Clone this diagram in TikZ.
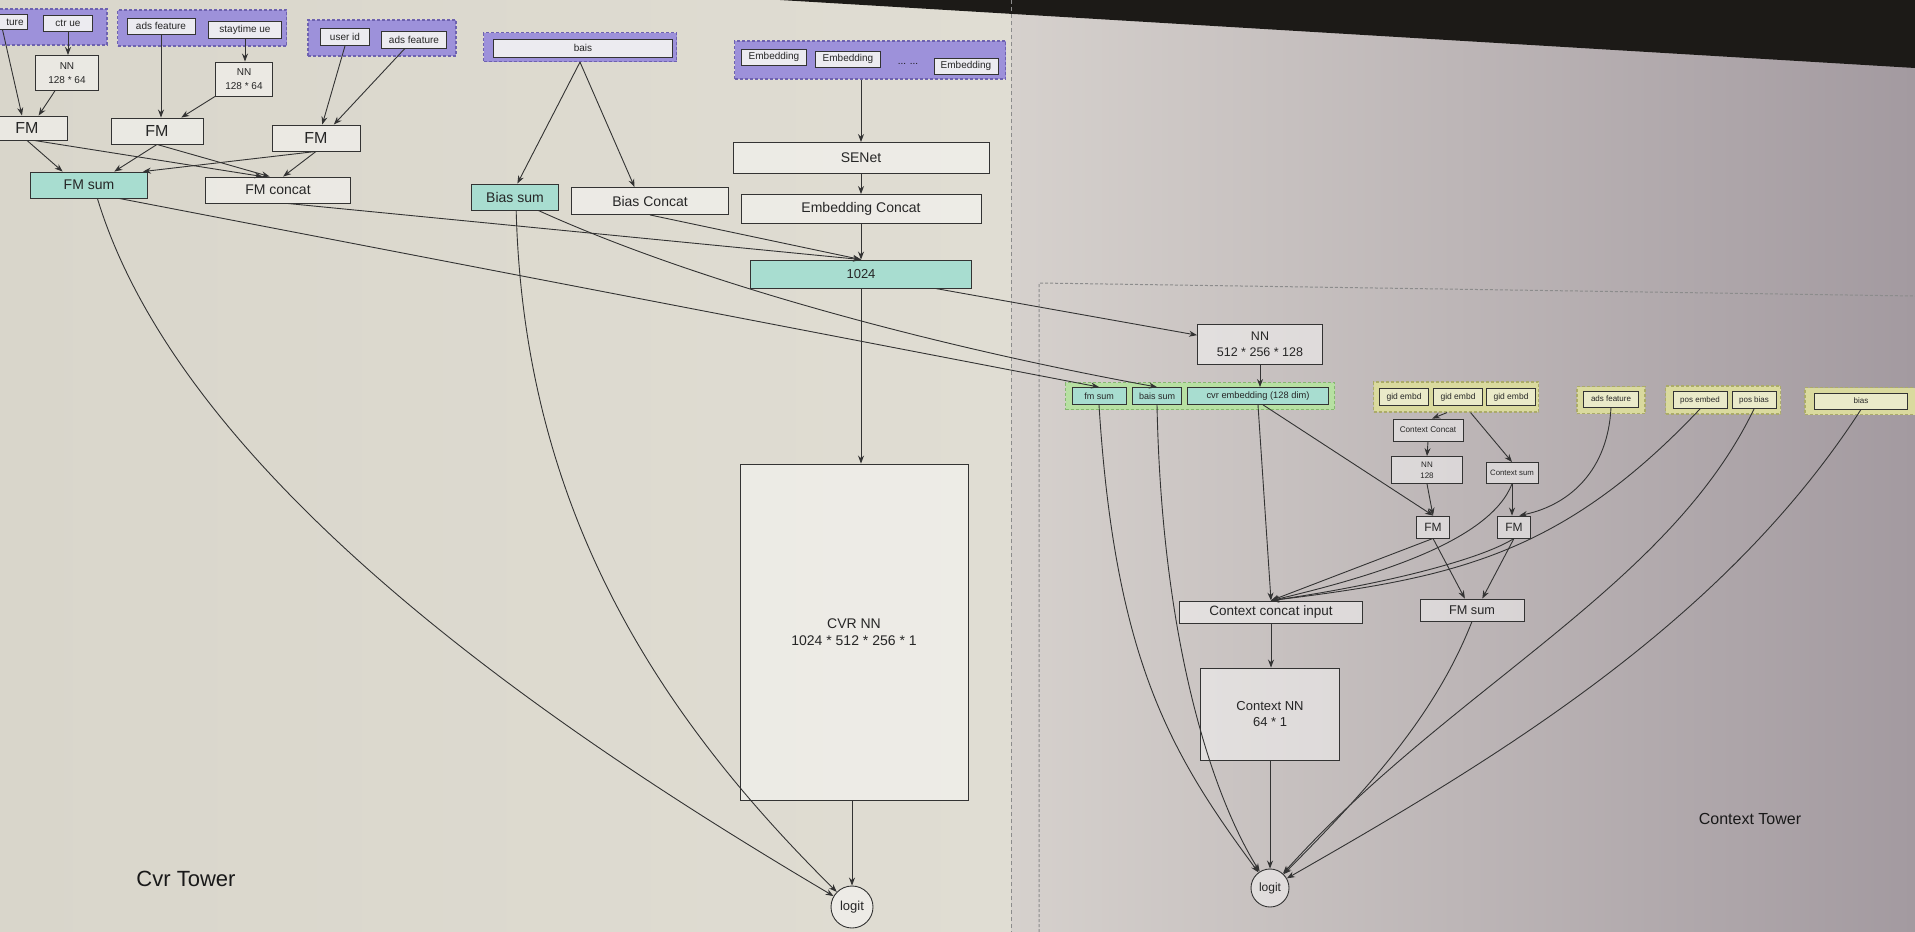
\documentclass[tikz,border=0pt]{standalone}
\usepackage{fontspec}
\setmainfont{Liberation Sans}
\usetikzlibrary{arrows.meta,calc}
\definecolor{bgA}{HTML}{D9D6CB}
\definecolor{bgB}{HTML}{E0DDD3}
\definecolor{bgD}{HTML}{D6D1CD}
\definecolor{bgC}{HTML}{A39AA0}
\definecolor{bezel}{HTML}{1C1A17}
\definecolor{ink}{HTML}{333333}
\definecolor{purp}{HTML}{9D91DA}
\definecolor{purpD}{HTML}{6E62B0}
\definecolor{tealc}{HTML}{A8DDD0}
\definecolor{greenc}{HTML}{B7E0A2}
\definecolor{greenD}{HTML}{86B870}
\definecolor{yelc}{HTML}{DADA9E}
\definecolor{yelD}{HTML}{ABAB6A}
\definecolor{inbox}{HTML}{ECEBF0}
\definecolor{divc}{HTML}{8C8C8C}
\newcommand{\myfs}[2]{\fontsize{#1}{#2}\selectfont}
\begin{document}
\begin{tikzpicture}[x=1pt,y=-1pt,
 box/.style={draw=ink, line width=0.9pt, fill=white, fill opacity=0.45, text opacity=1, inner sep=0pt, align=center, text=black!85},
 tbox/.style={box, fill=tealc, fill opacity=1},
 ibox/.style={box, fill=inbox, fill opacity=1, line width=0.8pt},
 grp/.style={dash pattern=on 3pt off 2pt, line width=1.2pt, inner sep=0pt},
 pgrp/.style={grp, draw=purpD, fill=purp},
 ggrp/.style={grp, draw=greenD, fill=greenc},
 ygrp/.style={grp, draw=yelD, fill=yelc},
 wh/.style 2 args={minimum width=#1pt, minimum height=#2pt},
 conn/.style={draw=ink, line width=0.9pt, -{Stealth[length=8pt,width=6pt]}},
 lbl/.style={inner sep=0pt, text=black!90}]
\useasboundingbox (0,0) rectangle (1915,932);
\shade[left color=bgA, right color=bgB] (0,0) rectangle (1012,932);
\shade[left color=bgD, right color=bgC] (1011,0) rectangle (1915,932);
\fill[bezel] (780,0) -- (1915,0) -- (1915,68) -- cycle;
\draw[divc, line width=1pt, dash pattern=on 4pt off 3pt] (1011,0) -- (1011,932);
\draw[divc, line width=1pt, dash pattern=on 3pt off 2pt] (1039,932) -- (1039,283) -- (1915,296);

% ---------------- Cvr tower ----------------
\node[pgrp, wh={130}{36}] (g1) at (42,27) {};
\node[ibox, wh={58}{15}] (af1) at (-2,22) {};
\node[lbl, font=\myfs{10}{12}, text=black!85] (af1t) at (15,22) {ture};
\node[ibox, wh={49}{16}, font=\myfs{10}{12}] (ctr) at (68,23) {ctr ue};
\node[box, wh={63}{35}, font=\myfs{10}{14}] (nn1) at (67,73) {NN\\128 * 64};
\node[box, wh={80}{24}, font=\myfs{16}{18}] (fm1) at (27,128) {FM};
\node[pgrp, wh={169}{36}] (g2) at (202,28) {};
\node[ibox, wh={68}{16}, font=\myfs{10}{12}] (af2) at (161,26) {ads feature};
\node[ibox, wh={73}{17}, font=\myfs{10}{12}] (st) at (245,30) {staytime ue};
\node[box, wh={57}{34}, font=\myfs{10}{14}] (nn2) at (244,79) {NN\\128 * 64};
\node[box, wh={92}{26}, font=\myfs{16}{18}] (fm2) at (157,131) {FM};
\node[pgrp, wh={148}{36}] (g3) at (382,38) {};
\node[ibox, wh={49}{17}, font=\myfs{10}{12}] (uid) at (345,37) {user id};
\node[ibox, wh={65}{17}, font=\myfs{10}{12}] (af3) at (414,40) {ads feature};
\node[box, wh={88}{26}, font=\myfs{16}{18}] (fm3) at (316,138) {FM};
\node[tbox, wh={117}{26}, font=\myfs{14}{16}] (fms) at (89,185) {FM sum};
\node[box, wh={145}{26}, font=\myfs{14}{16}] (fmc) at (278,190) {FM concat};
\node[pgrp, wh={193}{29}] (gb) at (580,47) {};
\node[ibox, wh={179}{18}, font=\myfs{10}{12}] (bais) at (583,48) {bais};
\node[tbox, wh={87}{26}, font=\myfs{14}{16}] (bs) at (515,197) {Bias sum};
\node[box, wh={157}{27}, font=\myfs{14}{16}] (bc) at (650,201) {Bias Concat};
\node[pgrp, wh={271}{38}] (ge) at (870,60) {};
\node[ibox, wh={65}{16}, font=\myfs{10}{12}] (e1) at (774,57) {Embedding};
\node[ibox, wh={65}{16}, font=\myfs{10}{12}] (e2) at (848,59) {Embedding};
\node[lbl, font=\myfs{10}{12}] (dots) at (908,64) {... ...};
\node[ibox, wh={64}{16}, font=\myfs{10}{12}] (e3) at (966,66) {Embedding};
\node[box, wh={256}{31}, font=\myfs{14}{16}] (se) at (861,158) {SENet};
\node[box, wh={240}{29}, font=\myfs{14}{16}] (ec) at (861,209) {Embedding Concat};
\node[tbox, wh={221}{28}, font=\myfs{13}{15}] (n1024) at (861,274) {1024};
\node[box, wh={228}{336}, font=\myfs{14}{17}] (cvr) at (854,632) {CVR NN\\1024 * 512 * 256 * 1};
\node[box, circle, minimum size=42pt, font=\myfs{13}{15}] (logL) at (852,907) {logit};
\node[lbl, font=\myfs{22}{24}] (cvrt) at (186,879) {Cvr Tower};

% ---------------- Context tower ----------------
\node[box, wh={125}{40}, font=\myfs{12.5}{16}] (nn512) at (1260,344) {NN\\512 * 256 * 128};
\node[ggrp, wh={269}{27}] (gg) at (1200,396) {};
\node[tbox, wh={54}{17}, font=\myfs{9}{11}] (fmsr) at (1099,396) {fm sum};
\node[tbox, wh={49}{17}, font=\myfs{9}{11}] (bsr) at (1157,396) {bais sum};
\node[tbox, wh={141}{17}, font=\myfs{9.3}{11}] (cve) at (1258,396) {cvr embedding (128 dim)};
\node[ygrp, wh={165}{30}] (gy1) at (1456,397) {};
\node[box, wh={49}{17}, font=\myfs{8.5}{10}] (gid1) at (1404,397) {gid embd};
\node[box, wh={49}{17}, font=\myfs{8.5}{10}] (gid2) at (1458,397) {gid embd};
\node[box, wh={49}{17}, font=\myfs{8.5}{10}] (gid3) at (1511,397) {gid embd};
\node[box, wh={70}{22}, font=\myfs{8.2}{10}] (cc) at (1428,430) {Context Concat};
\node[box, wh={71}{27}, font=\myfs{8}{11}] (nn128) at (1427,470) {NN\\128};
\node[box, wh={52}{21}, font=\myfs{7.8}{10}] (cs) at (1512,473) {Context sum};
\node[box, wh={33}{22}, font=\myfs{12}{14}] (fr1) at (1433,527) {FM};
\node[box, wh={33}{22}, font=\myfs{12}{14}] (fr2) at (1514,527) {FM};
\node[ygrp, wh={68}{27}] (gy2) at (1611,400) {};
\node[box, wh={55}{16}, font=\myfs{8}{10}] (afr) at (1611,399) {ads feature};
\node[ygrp, wh={115}{28}] (gy3) at (1723,400) {};
\node[box, wh={54}{17}, font=\myfs{8}{10}] (pe) at (1700,400) {pos embed};
\node[box, wh={44}{17}, font=\myfs{8}{10}] (pb) at (1754,400) {pos bias};
\node[ygrp, wh={118}{27}] (gy4) at (1864,401) {};
\node[box, wh={93}{16}, font=\myfs{8}{10}] (bias) at (1861,401) {bias};
\node[box, wh={183}{22}, font=\myfs{13.5}{16}] (cci) at (1271,612) {Context concat input};
\node[box, wh={104}{22}, font=\myfs{12.7}{15}] (fsr) at (1472,610) {FM sum};
\node[box, wh={139}{92}, font=\myfs{13}{16}] (cnn) at (1270,714) {Context NN\\64 * 1};
\node[box, circle, minimum size=38pt, font=\myfs{12}{14}] (logR) at (1270,888) {logit};
\node[lbl, font=\myfs{16}{18}] (ctt) at (1750,819) {Context Tower};

% ---------------- connectors: Cvr tower ----------------
\draw[conn] (af1.-60) -- (fm1.112);
\draw[conn] (ctr.south) -- (ctr.south |- nn1.north);
\draw[conn] (nn1.236) -- (fm1.47);
\draw[conn] (af2.south) -- (af2.south |- fm2.north);
\draw[conn] (st.south) -- (st.south |- nn2.north);
\draw[conn] (nn2.south west) -- (fm2.29);
\draw[conn] (uid.south) -- (fm3.65);
\draw[conn] (af3.223) -- (fm3.37);
\draw[conn] (fm1.south) -- (fms.153);
\draw[conn] (fm1.-60) -- (fmc.139);
\draw[conn] (fm2.south) -- (fms.28);
\draw[conn] (fm2.south) -- (fmc.122);
\draw[conn] (fm3.south) -- (fms.14);
\draw[conn] (fm3.south) -- (fmc.69);
\draw[conn] (gb.south) -- (bs.80);
\draw[conn] (gb.south) -- (bc.138);
\draw[conn] (se.north |- ge.south) -- (se.north);
\draw[conn] (se.south) -- (ec.north);
\draw[conn] (ec.south) -- (n1024.north);
\draw[conn] (bc.south) -- (n1024.north);
\draw[conn] (fmc.-55) -- (n1024.north);
\draw[conn] (n1024.south) -- (n1024.south |- cvr.north);
\draw[conn] (cvr.south -| logL) -- (logL);
\draw[conn] (n1024.-11) -- (nn512.172);
\draw[conn] (fms.-58) .. controls (185,487) and (575,743) .. (logL);
\draw[conn] (bs.-85) .. controls (524,510) and (658,715) .. (logL);
\draw[conn] (fms.-24) -- (fmsr.north);
\draw[conn] (bs.-30) .. controls (709,288) and (954,350) .. (bsr.north);

% ---------------- connectors: Context tower ----------------
\draw[conn] (nn512.south) -- (nn512.south |- cve.north);
\draw[conn] (fmsr.south) .. controls (1115,659) and (1170,753) .. (logR);
\draw[conn] (bsr.south) .. controls (1162,650) and (1215,800) .. (logR);
\draw[conn] (cve.south) -- (cci.north);
\draw[conn] (cve.-60) -- (fr1.north);
\draw[conn] (gy1.240) -- (cc.70);
\draw[conn] (gy1.-47) -- (cs.north);
\draw[conn] (cc.south) -- (nn128.north);
\draw[conn] (nn128.south) -- (fr1.north);
\draw[conn] (cs.south) -- (cs.south |- fr2.north);
\draw[conn] (afr.south) .. controls (1608,470) and (1570,505) .. (fr2.65);
\draw[conn] (cs.south) .. controls (1490,540) and (1380,575) .. (cci.north);
\draw[conn] (fr1.south) -- (cci.north);
\draw[conn] (fr2.south) .. controls (1480,560) and (1380,585) .. (cci.north);
\draw[conn] (pe.south) .. controls (1562,555) and (1454,578) .. (cci.north);
\draw[conn] (pb.south) .. controls (1668,588) and (1450,688) .. (logR);
\draw[conn] (bias.south) .. controls (1724,621) and (1503,755) .. (logR);
\draw[conn] (fr1.south) -- (fsr.122);
\draw[conn] (fr2.south) -- (fsr.48);
\draw[conn] (fsr.south) .. controls (1435,716) and (1367,790) .. (logR);
\draw[conn] (cci.south) -- (cci.south |- cnn.north);
\draw[conn] (cnn.south) -- (logR);
\end{tikzpicture}
\end{document}
